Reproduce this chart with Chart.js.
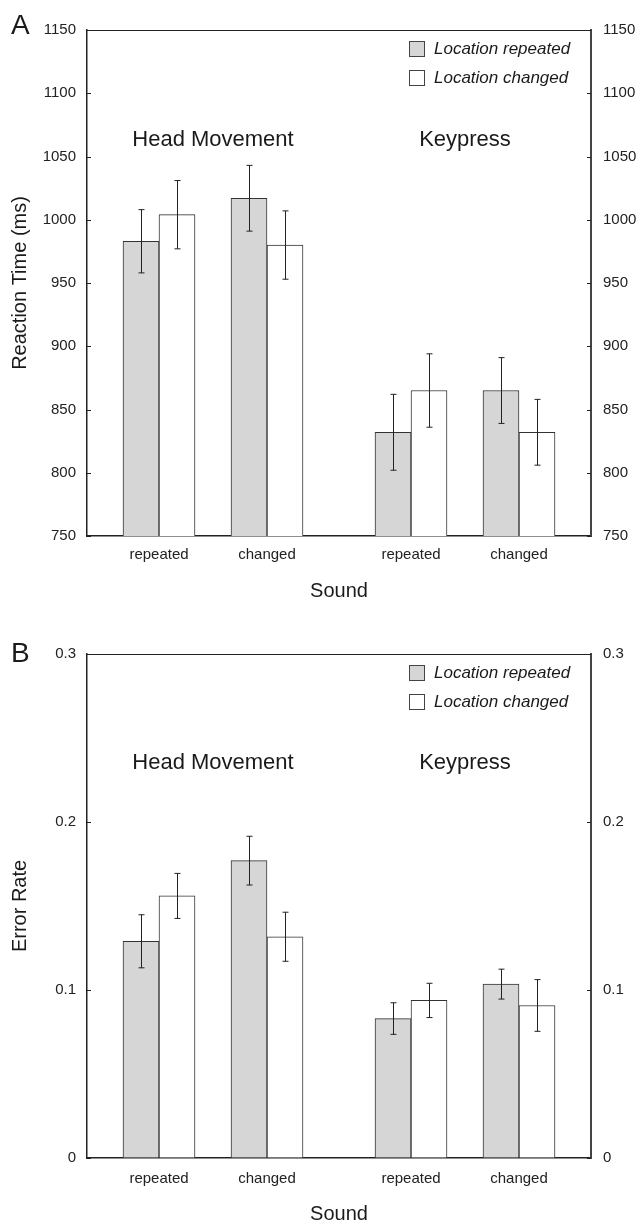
<!DOCTYPE html>
<html>
<head>
<meta charset="utf-8">
<script src="https://cdn.jsdelivr.net/npm/chart.js@4.4.1/dist/chart.umd.min.js"></script>
<style>
  html, body { margin: 0; padding: 0; background: #fff; }
  canvas { position: absolute; left: 0; }
  #panelA { top: 0; }
  #panelB { top: 612px; }
</style>
</head>
<body>
<canvas id="panelA" width="639" height="612"></canvas>
<canvas id="panelB" width="639" height="612"></canvas>
<script>
// conditions along the x axis
const soundLabels = ["repeated", "changed", "repeated", "changed"];
const slotX = [2, 5, 9, 12];
const responseGroups = ["Head Movement", "Keypress"];
const seriesNames = ["Location repeated", "Location changed"];

// reaction time (ms), mean and error
const rtRepeated = [983, 1017, 832, 865];
const rtRepeatedErr = [25, 26, 30, 26];
const rtChanged = [1004, 980, 865, 832];
const rtChangedErr = [27, 27, 29, 26];
const rtTicks = [750, 800, 850, 900, 950, 1000, 1050, 1100, 1150];

// error rate, mean and error
const erRepeated = [0.129, 0.177, 0.083, 0.1035];
const erRepeatedErr = [0.0158, 0.0145, 0.0094, 0.0089];
const erChanged = [0.156, 0.1317, 0.0938, 0.0908];
const erChangedErr = [0.0134, 0.0146, 0.0102, 0.0154];
const erTicks = [0, 0.1, 0.2, 0.3];

const FONT = '"Liberation Sans", Arial, Helvetica, sans-serif';
Chart.defaults.font.family = FONT;
Chart.defaults.color = "#1a1a1a";

const errorBars = {
    id: "errorBars",
    afterDatasetsDraw(chart) {
        const ctx = chart.ctx;
        const y = chart.scales.y;
        ctx.save();
        ctx.strokeStyle = "#222";
        ctx.lineWidth = 1;
        chart.data.datasets.forEach((ds, i) => {
            chart.getDatasetMeta(i).data.forEach((bar, j) => {
                const v = ds.data[j].y;
                const e = ds.errors[j];
                const x = Math.round(bar.x) + 0.5;
                const top = y.getPixelForValue(v + e);
                const bot = y.getPixelForValue(v - e);
                ctx.beginPath();
                ctx.moveTo(x, top); ctx.lineTo(x, bot);
                ctx.moveTo(x - 3, top); ctx.lineTo(x + 3, top);
                ctx.moveTo(x - 3, bot); ctx.lineTo(x + 3, bot);
                ctx.stroke();
            });
        });
        ctx.restore();
    }
};

const decorations = {
    id: "decorations",
    afterDraw(chart, args, opts) {
        const ctx = chart.ctx;
        const area = chart.chartArea;
        const xs = chart.scales.x;
        const ys = chart.scales.y;
        ctx.save();

        // top frame line
        ctx.strokeStyle = "#222";
        ctx.lineWidth = 1;
        ctx.beginPath();
        ctx.moveTo(area.left, area.top + 0.5);
        ctx.lineTo(area.right, area.top + 0.5);
        ctx.stroke();

        // inward tick marks on both y axes
        ys.ticks.forEach(t => {
            const py = Math.round(ys.getPixelForValue(t.value)) + 0.5;
            ctx.beginPath();
            ctx.moveTo(area.left, py); ctx.lineTo(area.left + 4, py);
            ctx.moveTo(area.right, py); ctx.lineTo(area.right - 4, py);
            ctx.stroke();
        });

        // group headings
        ctx.fillStyle = "#1a1a1a";
        ctx.font = "22px " + FONT;
        ctx.textAlign = "center";
        ctx.textBaseline = "middle";
        responseGroups.forEach((name, g) => {
            const mid = (slotX[2 * g] + slotX[2 * g + 1]) / 2;
            ctx.fillText(name, xs.getPixelForValue(mid), ys.getPixelForValue(opts.groupY));
        });

        // legend
        ctx.font = "italic 17px " + FONT;
        ctx.textAlign = "left";
        chart.data.datasets.forEach((ds, i) => {
            const cy = area.top + 19 + i * 29;
            ctx.fillStyle = ds.backgroundColor;
            ctx.fillRect(area.right - 182, cy - 8, 15, 15);
            ctx.strokeStyle = "#444";
            ctx.strokeRect(area.right - 181.5, cy - 7.5, 15, 15);
            ctx.fillStyle = "#1a1a1a";
            ctx.fillText(ds.label, area.right - 157, cy);
        });

        // panel letter
        ctx.font = "28px " + FONT;
        ctx.textBaseline = "alphabetic";
        ctx.fillText(opts.letter, 11, opts.letterY);
        ctx.restore();
    }
};

function makePanel(canvasId, p) {
    const yAxis = (pos) => ({
        type: "linear",
        position: pos,
        min: p.ticks[0],
        max: p.ticks[p.ticks.length - 1],
        afterBuildTicks: s => { s.ticks = p.ticks.map(v => ({ value: v })); },
        afterFit: s => { s.width = pos === "left" ? 87 : 48; },
        grid: { display: true, drawOnChartArea: false, drawTicks: false },
        border: pos === "left"
            ? { display: true, color: "#222", width: 1.5 }
            : { display: true, color: "#444", width: 2 },
        ticks: {
            padding: pos === "left" ? 11 : 12,
            font: { size: 15 },
            color: "#222",
            callback: p.fmt
        },
        title: pos === "left"
            ? { display: true, text: p.yTitle, font: { size: 20, lineHeight: 1 }, color: "#1a1a1a", padding: { top: 10, bottom: 0 } }
            : { display: false }
    });

    return new Chart(document.getElementById(canvasId), {
        type: "bar",
        data: {
            datasets: [
                {
                    label: seriesNames[0],
                    data: slotX.map((x, i) => ({ x, y: p.repeated[i] })),
                    errors: p.repeatedErr,
                    backgroundColor: "#d6d6d6",
                    borderColor: "#333",
                    borderWidth: 1,
                    barThickness: 36
                },
                {
                    label: seriesNames[1],
                    data: slotX.map((x, i) => ({ x, y: p.changed[i] })),
                    errors: p.changedErr,
                    backgroundColor: "#ffffff",
                    borderColor: "#333",
                    borderWidth: 1,
                    barThickness: 36
                }
            ]
        },
        options: {
            responsive: false,
            animation: false,
            devicePixelRatio: 1,
            layout: { padding: { top: p.top, left: 0, right: 0, bottom: 0 } },
            plugins: {
                legend: { display: false },
                tooltip: { enabled: false },
                decorations: { letter: p.letter, letterY: p.letterY, groupY: p.groupY }
            },
            scales: {
                x: {
                    type: "linear",
                    min: 0,
                    max: 14,
                    offset: false,
                    afterBuildTicks: s => { s.ticks = slotX.map(v => ({ value: v })); },
                    afterFit: s => { s.height = p.xHeight; },
                    grid: { display: true, drawOnChartArea: false, drawTicks: false },
                    border: { display: true, color: "#222", width: 1.5 },
                    ticks: {
                        padding: p.xPad,
                        font: { size: 15 },
                        color: "#222",
                        maxRotation: 0,
                        autoSkip: false,
                        callback: (v, i) => soundLabels[i]
                    },
                    title: { display: true, text: "Sound", font: { size: 20, lineHeight: 1 }, color: "#1a1a1a", padding: { top: 0, bottom: p.titlePad } }
                },
                y: yAxis("left"),
                y2: yAxis("right")
            }
        },
        plugins: [errorBars, decorations]
    });
}

makePanel("panelA", {
    repeated: rtRepeated, repeatedErr: rtRepeatedErr,
    changed: rtChanged, changedErr: rtChangedErr,
    ticks: rtTicks,
    fmt: v => String(v),
    yTitle: "Reaction Time (ms)",
    letter: "A", letterY: 34,
    groupY: 1063,
    top: 30, xHeight: 76, xPad: 10, titlePad: 11
});

makePanel("panelB", {
    repeated: erRepeated, repeatedErr: erRepeatedErr,
    changed: erChanged, changedErr: erChangedErr,
    ticks: erTicks,
    fmt: v => (v === 0 ? "0" : v.toFixed(1)),
    yTitle: "Error Rate",
    letter: "B", letterY: 50,
    groupY: 0.235,
    top: 42, xHeight: 66, xPad: 12, titlePad: 0
});
</script>
</body>
</html>
